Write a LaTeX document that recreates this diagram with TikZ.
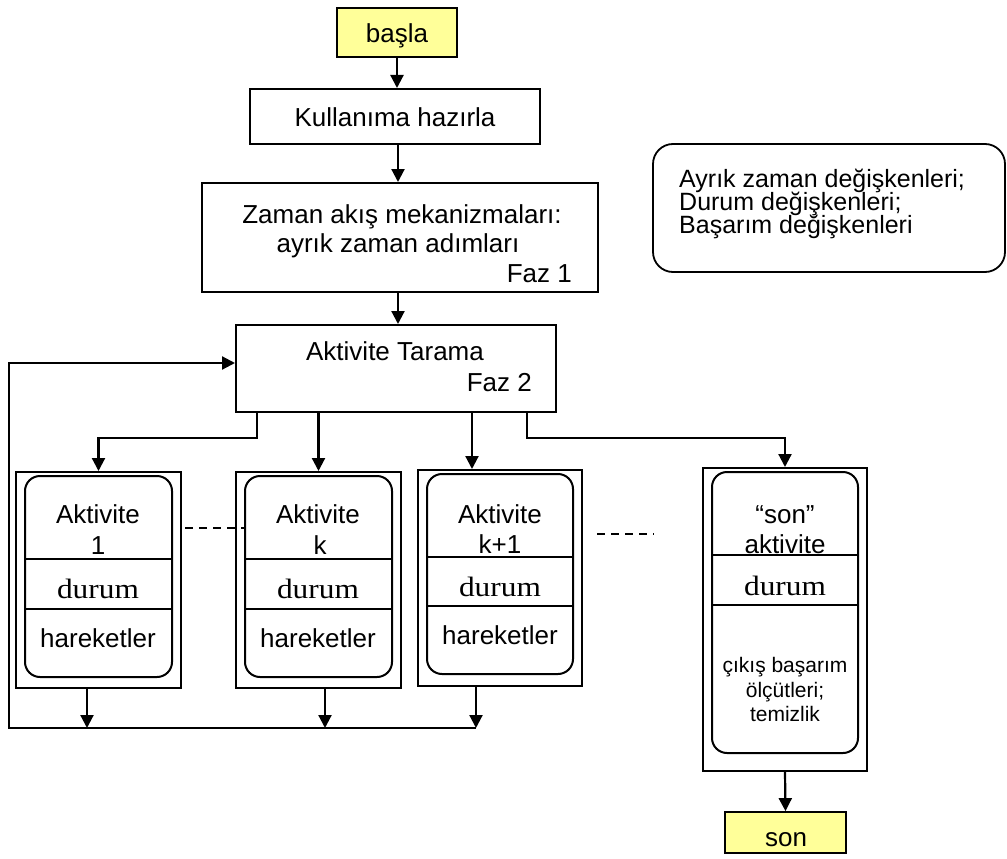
\documentclass[tikz,border=0pt]{standalone}
\usepackage{fontspec}
\setmainfont{Liberation Sans}
\newfontfamily\durumfont{Liberation Serif}[FakeStretch=1.12]
\usetikzlibrary{arrows.meta,fit}
\definecolor{termfill}{HTML}{FFFF99}

\begin{document}
\begin{tikzpicture}[x=1pt,y=-1pt,
  frame/.style={draw, line width=2pt, inner sep=0pt, rectangle},
  term/.style={frame, fill=termfill, line width=1.8pt},
  roundbox/.style={draw, line width=2pt, inner sep=0pt, rounded corners=15pt},
  legendbox/.style={draw, line width=1.8pt, inner sep=0pt, rounded corners=20pt},
  lbl/.style={anchor=base, inner sep=0pt, font=\fontsize{26}{30}\selectfont},
  lbllegend/.style={anchor=base west, inner sep=0pt, font=\fontsize{25}{23}\selectfont},
  lblsmall/.style={anchor=base, inner sep=0pt, font=\fontsize{21}{24}\selectfont},
  lblserif/.style={anchor=base, inner sep=0pt, font=\durumfont\fontsize{28}{32}\selectfont},
  arr/.style={line width=2.2pt, -{Triangle[length=13pt,width=13pt]}},
  divider/.style={line width=1.6pt},
  dots/.style={line width=1.4pt, dash pattern=on 8pt off 6pt}
]
\useasboundingbox (0,0) rectangle (1007,859);

% ---- main chain ----
\node[term, fit={(337,8) (457,57)}] (basla) {};
\node[lbl] (tbasla) at (397,43) {başla};

\node[frame, fit={(250,89) (540,144)}] (kul) {};
\node[lbl] (tkul) at (395,126) {Kullanıma hazırla};

\node[frame, fit={(202,183) (598,292)}] (faz1) {};
\node[lbl] (tz1) at (402,223) {Zaman akış mekanizmaları:};
\node[lbl] (tz2) at (398,252) {ayrık zaman adımları};
\node[lbl, anchor=base east] (tfaz1) at (572,282) {Faz 1};

\node[frame, fit={(236,325) (556,412)}] (faz2) {};
\node[lbl] (tt1) at (395,360) {Aktivite Tarama};
\node[lbl, anchor=base east] (tfaz2) at (532,391) {Faz 2};

% ---- legend ----
\node[legendbox, fit={(653,144) (1005,272)}] (legend) {};
\node[lbllegend] (lg1) at (679,187) {Ayrık zaman değişkenleri;};
\node[lbllegend] (lg2) at (679,210) {Durum değişkenleri;};
\node[lbllegend] (lg3) at (679,233) {Başarım değişkenleri};

% ---- activity 1 ----
\node[frame, fit={(16,472) (181,688)}] (a1) {};
\node[roundbox, fit={(25,476) (172,677)}] (i1) {};
\draw[divider] (i1.west |- 0,559) -- (i1.east |- 0,559);
\draw[divider] (i1.west |- 0,609) -- (i1.east |- 0,609);
\node[lbl] (a1t1) at (98,523) {Aktivite};
\node[lbl] (a1t2) at (98,554) {1};
\node[lblserif] (a1d) at (98,598) {durum};
\node[lbl] (a1h) at (98,647) {hareketler};

% ---- activity k ----
\node[frame, fit={(236,472) (401,688)}] (ak) {};
\node[roundbox, fit={(245,476) (392,677)}] (ik) {};
\draw[divider] (ik.west |- 0,559) -- (ik.east |- 0,559);
\draw[divider] (ik.west |- 0,609) -- (ik.east |- 0,609);
\node[lbl] (akt1) at (318,523) {Aktivite};
\node[lbl] (akt2) at (320,554) {k};
\node[lblserif] (akd) at (318,598) {durum};
\node[lbl] (akh) at (318,647) {hareketler};

% ---- activity k+1 ----
\node[frame, fit={(418,470) (582,686)}] (ak1) {};
\node[roundbox, fit={(427,474) (573,674)}] (ik1) {};
\draw[divider] (ik1.west |- 0,557) -- (ik1.east |- 0,557);
\draw[divider] (ik1.west |- 0,606) -- (ik1.east |- 0,606);
\node[lbl] (ak1t1) at (500,523) {Aktivite};
\node[lbl] (ak1t2) at (500,553) {k+1};
\node[lblserif] (ak1d) at (500,596) {durum};
\node[lbl] (ak1h) at (500,644) {hareketler};

% ---- final activity ----
\node[frame, fit={(703,468) (867,771)}] (asn) {};
\node[roundbox, fit={(712,472) (858,753)}] (isn) {};
\node[lbl] (snt1) at (785,523) {“son”};
\node[lbl] (snt2) at (785,553) {aktivite};
\draw[divider] (isn.west |- 0,555) -- (isn.east |- 0,555);
\draw[divider] (isn.west |- 0,605) -- (isn.east |- 0,605);
\node[lblserif] (snd) at (785,595) {durum};
\node[lblsmall] (snc1) at (785,672) {çıkış başarım};
\node[lblsmall] (snc2) at (785,697) {ölçütleri;};
\node[lblsmall] (snc3) at (785,721) {temizlik};

\node[term, fit={(725,812) (846,853)}] (son) {};
\node[lbl] (tson) at (786,846) {son};

% ---- helper coordinates ----
\coordinate (spine) at (398,0);
\coordinate (split) at (0,438);
\coordinate (drop1) at (257,0);
\coordinate (drop3) at (472,0);
\coordinate (drop4) at (527,0);
\coordinate (bus) at (0,728);
\coordinate (out1) at (87,0);
\coordinate (out2) at (325,0);
\coordinate (out3) at (476,0);
\coordinate (loop) at (9,363);

% ---- connectors ----
\draw[arr] (basla.south) -- (basla.south |- kul.north);
\draw[arr] (spine |- kul.south) -- (spine |- faz1.north);
\draw[arr] (spine |- faz1.south) -- (spine |- faz2.north);

\draw[arr] (faz2.south -| drop1) |- (split -| a1.north) -- (a1.north);
\draw[arr] (faz2.south -| ak.north) -- (ak.north);
\draw[arr] (faz2.south -| drop3) -- (ak1.north -| drop3);
\draw[arr] (faz2.south -| drop4) |- (split -| asn.north) -- (asn.north);

\draw[arr] (a1.south -| out1) -- (bus -| out1);
\draw[arr] (ak.south -| out2) -- (bus -| out2);
\draw[arr] (ak1.south -| out3) -- (bus -| out3);
\draw[arr] (bus -| out3) -| (loop) -- (loop -| faz2.west);

\draw[arr] (asn.south) -- (son.north);

% ---- ellipsis dashes between activities ----
\draw[dots] (185,528) -- (245,528);
\draw[dots] (597,534) -- (654,534);
\end{tikzpicture}
\end{document}
